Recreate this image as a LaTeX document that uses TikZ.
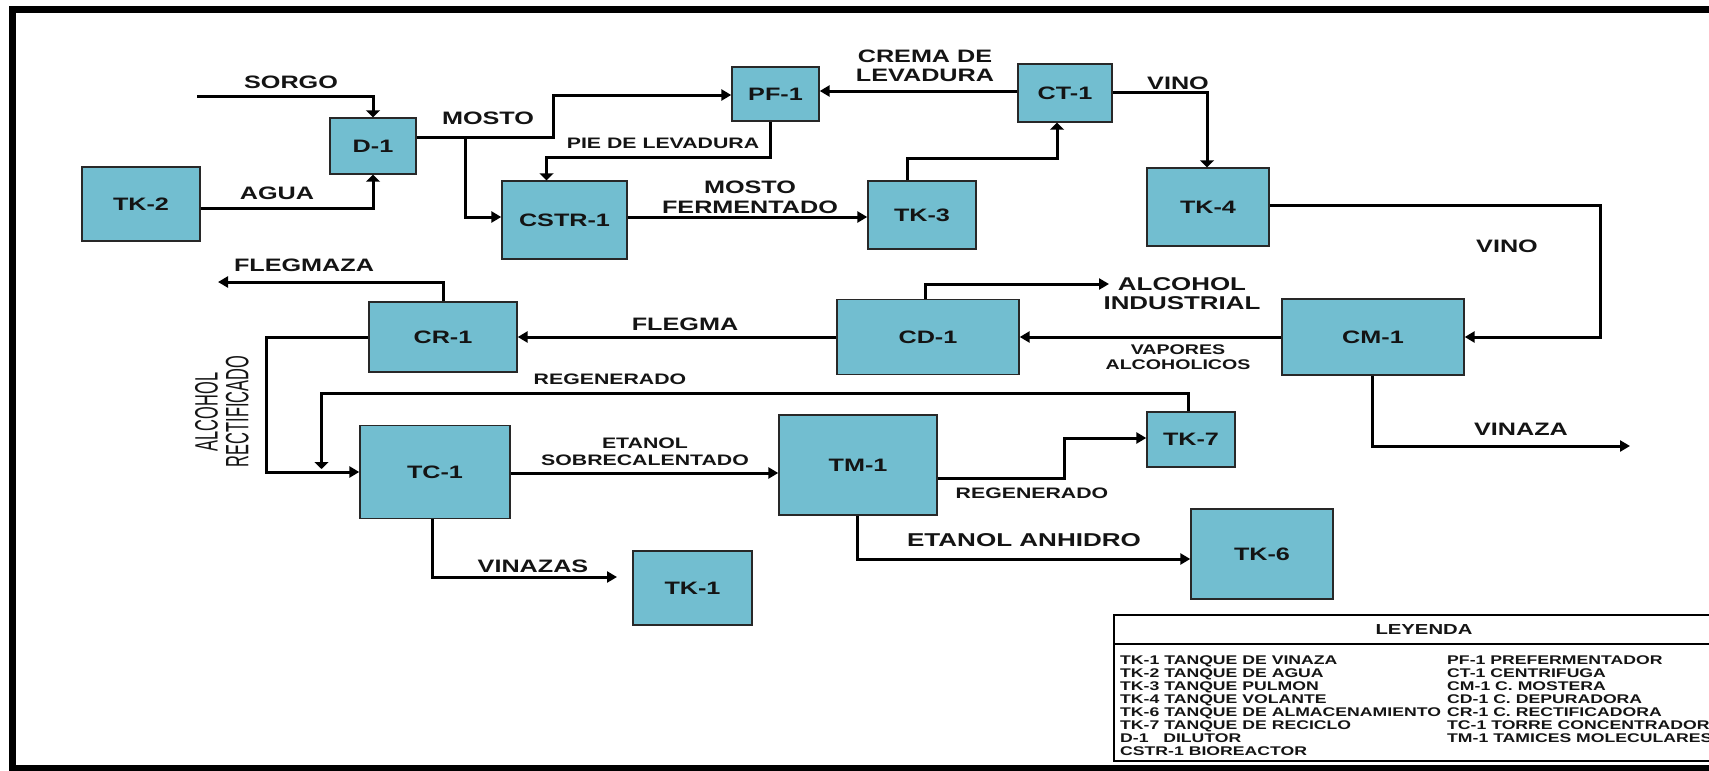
\documentclass[tikz,border=0pt]{standalone}
\usepackage{fontspec}
\setmainfont{Liberation Sans}[FakeStretch=1.4]
\newfontfamily\plainsans{Liberation Sans}
\usetikzlibrary{arrows.meta}
\definecolor{unitfill}{RGB}{114,190,208}
\definecolor{unitline}{RGB}{40,40,40}
\definecolor{ink}{RGB}{20,20,20}

\tikzset{
  unit/.style={draw=unitline, line width=1.4pt, fill=unitfill, inner sep=0pt,
               font=\bfseries\fontsize{18}{20}\selectfont, text=ink},
  flow/.style={line width=3pt, -{Triangle[length=10pt,width=11pt]}},
  vflow/.style={line width=3pt, -{Triangle[length=7pt,width=14pt]}},
  lbl/.style={inner sep=0pt, align=center, text=ink},
  big/.style={lbl, font=\bfseries\fontsize{18}{19.5}\selectfont},
  small/.style={lbl, font=\bfseries\fontsize{15.2}{17}\selectfont},
  legendtext/.style={inner sep=0pt, align=left, anchor=north west, text=ink,
                     font=\bfseries\fontsize{12.6}{13}\selectfont},
}

\begin{document}
\begin{tikzpicture}[x=1pt, y=-1pt, line join=miter]
\useasboundingbox (0,0) rectangle (1709,771);
\clip (0,0) rectangle (1709,771);
\fill[white] (0,0) rectangle (1709,771);

% outer frame
\draw[line width=7pt] (12,9) rectangle (1760,768);

% process units
\node[unit, minimum width=118pt, minimum height=74pt] (TK2)   at (141,204)   {TK-2};
\node[unit, minimum width=86pt,  minimum height=56pt] (D1)    at (373,146)   {D-1};
\node[unit, minimum width=125pt, minimum height=78pt] (CSTR1) at (564.5,220) {CSTR-1};
\node[unit, minimum width=87pt,  minimum height=54pt] (PF1)   at (775.5,94)  {PF-1};
\node[unit, minimum width=108pt, minimum height=68pt] (TK3)   at (922,215)   {TK-3};
\node[unit, minimum width=94pt,  minimum height=58pt] (CT1)   at (1065,93)   {CT-1};
\node[unit, minimum width=122pt, minimum height=78pt] (TK4)   at (1208,207)  {TK-4};
\node[unit, minimum width=182pt, minimum height=76pt] (CM1)   at (1373,337)  {CM-1};
\node[unit, minimum width=182pt, minimum height=75pt] (CD1)   at (928,337)   {CD-1};
\node[unit, minimum width=148pt, minimum height=70pt] (CR1)   at (443,337)   {CR-1};
\node[unit, minimum width=150pt, minimum height=93pt] (TC1)   at (435,472)   {TC-1};
\node[unit, minimum width=158pt, minimum height=100pt] (TM1)  at (858,465)   {TM-1};
\node[unit, minimum width=88pt,  minimum height=55pt] (TK7)   at (1191,439.5) {TK-7};
\node[unit, minimum width=142pt, minimum height=90pt] (TK6)   at (1262,554)  {TK-6};
\node[unit, minimum width=119pt, minimum height=74pt] (TK1)   at (692.5,588) {TK-1};

% free ends of streams
\coordinate (sorgoin)    at (197,96);
\coordinate (alcind)     at (1109,284);
\coordinate (flegout)    at (218,282);
\coordinate (regjoin)    at (321.5,469);
\coordinate (vinazasend) at (617,577);
\coordinate (vinazaout)  at (1630,446);

% streams
\draw[vflow] (sorgoin) -| (D1.north);
\draw[vflow] ([yshift=-4pt]TK2.east) -| (D1.south);
\draw[flow]  ([yshift=9pt]D1.east) -- (553,137) |- ([yshift=-1pt]PF1.west);
\draw[flow]  (465,137) |- ([yshift=3pt]CSTR1.west);
\draw[vflow] ([xshift=-5.5pt]PF1.south) |- (546.5,157) -- ([xshift=-18pt]CSTR1.north);
\draw[flow]  ([yshift=2pt]CT1.west) -- ([yshift=3pt]PF1.east);
\draw[flow]  ([yshift=3pt]CSTR1.east) -- ([yshift=-2pt]TK3.west);
\draw[vflow] ([xshift=-15pt]TK3.north) |- (1057,158) -- ([xshift=-8pt]CT1.south);
\draw[vflow] ([yshift=1pt]CT1.east) -| ([xshift=-1pt]TK4.north);
\draw[flow]  ([yshift=2pt]TK4.east) -- (1600,205) |- (CM1.east);
\draw[flow]  (CM1.west) -- (CD1.east);
\draw[flow]  ([xshift=-3pt]CD1.north) |- (alcind);
\draw[flow]  (CD1.west) -- (CR1.east);
\draw[flow]  (CR1.north) |- (flegout);
\draw[flow]  (CR1.west) -- (266,337) |- (TC1.west);
\draw[vflow] ([xshift=-2.5pt]TK7.north) |- (321.5,393) -- (regjoin);
\draw[flow]  ([yshift=-1pt]TC1.east) -- ([yshift=-8pt]TM1.west);
\draw[flow]  ([yshift=-13pt]TM1.east) -- (1064,478) |- ([yshift=1.5pt]TK7.west);
\draw[flow]  ([xshift=-1pt]TM1.south) |- ([yshift=-5pt]TK6.west);
\draw[flow]  ([xshift=-3pt]TC1.south) |- (vinazasend);
\draw[flow]  ([xshift=-1pt]CM1.south) |- (vinazaout);

% stream labels
\node[big]   (lsorgo)  at (291,82)   {SORGO};
\node[big]   (lagua)   at (277,193)  {AGUA};
\node[big]   (lmosto)  at (488,118)  {MOSTO};
\node[small] (lpie)    at (663,143)  {PIE DE LEVADURA};
\node[big]   (lcrema)  at (925,66)   {CREMA DE\\LEVADURA};
\node[big, font=\bfseries\fontsize{18}{20}\selectfont] (lmf) at (750,197) {MOSTO\\FERMENTADO};
\node[big]   (lvino1)  at (1178,83)  {VINO};
\node[big]   (lvino2)  at (1507,246) {VINO};
\node[big, font=\bfseries\fontsize{18.5}{19.5}\selectfont] (lalc) at (1182,293.5) {ALCOHOL\\INDUSTRIAL};
\node[big]   (lflegz)  at (304,265)  {FLEGMAZA};
\node[big]   (lflegm)  at (685,324)  {FLEGMA};
\node[small, font=\bfseries\fontsize{14}{14.5}\selectfont] (lvap) at (1178,357) {VAPORES\\ALCOHOLICOS};
\node[small] (lreg1)   at (610,379)  {REGENERADO};
\node[small] (lreg2)   at (1032,493) {REGENERADO};
\node[small] (letsob)  at (645,452)  {ETANOL\\SOBRECALENTADO};
\node[big, font=\bfseries\fontsize{18.6}{20}\selectfont] (lanh) at (1024,540) {ETANOL ANHIDRO};
\node[big]   (lvzs)    at (533,566)  {VINAZAS};
\node[big]   (lvza)    at (1521,429) {VINAZA};
\node[lbl, rotate=90, font=\plainsans\fontsize{16.4}{18}\selectfont] (lrect1) at (206.6,412) {\scalebox{1}[1.97]{ALCOHOL}};
\node[lbl, rotate=90, font=\plainsans\fontsize{16.4}{18}\selectfont] (lrect2) at (237.3,411.5) {\scalebox{1}[1.97]{RECTIFICADO}};

% legend
\draw[line width=2.5pt] (1114,615) rectangle (1760,761);
\draw[line width=2pt] (1114,644) -- (1760,644);
\node[lbl, font=\bfseries\fontsize{14.5}{16}\selectfont] (leyenda) at (1424,630) {LEYENDA};
\node[legendtext] (legleft) at (1120,655.5) {%
  TK-1 TANQUE DE VINAZA\\
  TK-2 TANQUE DE AGUA\\
  TK-3 TANQUE PULMON\\
  TK-4 TANQUE VOLANTE\\
  TK-6 TANQUE DE ALMACENAMIENTO\\
  TK-7 TANQUE DE RECICLO\\
  D-1~~~DILUTOR\\
  CSTR-1 BIOREACTOR};
\node[legendtext] (legright) at (1447,655.5) {%
  PF-1 PREFERMENTADOR\\
  CT-1 CENTRIFUGA\\
  CM-1 C. MOSTERA\\
  CD-1 C. DEPURADORA\\
  CR-1 C. RECTIFICADORA\\
  TC-1 TORRE CONCENTRADOR\\
  TM-1 TAMICES MOLECULARES};
\end{tikzpicture}
\end{document}
